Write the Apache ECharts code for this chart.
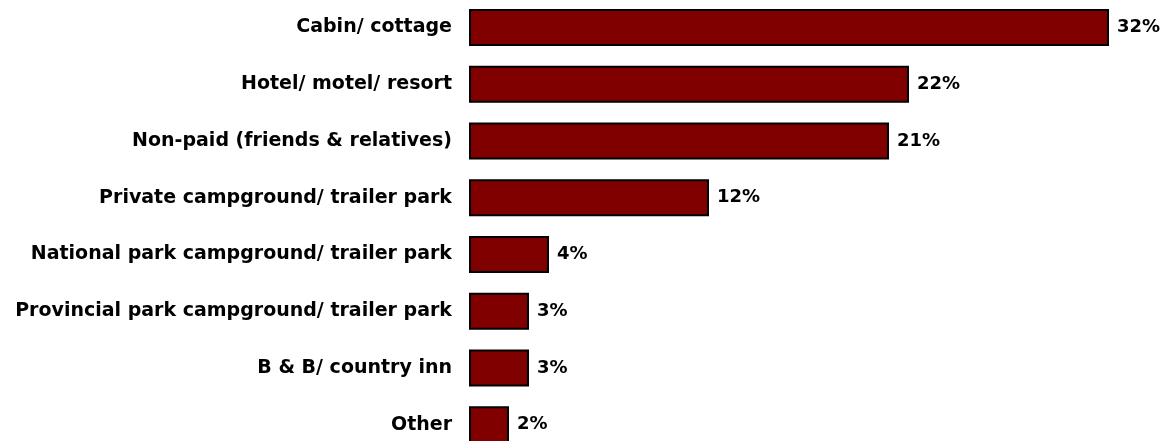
<!DOCTYPE html>
<html>
<head>
<meta charset="utf-8">
<script src="https://cdn.jsdelivr.net/npm/echarts@6/dist/echarts.min.js"></script>
<style>
html,body{margin:0;padding:0;background:#fff;}
#chart{width:1167px;height:441px;}
</style>
</head>
<body>
<div id="chart"></div>
<script>
var categories = [
  "Cabin/ cottage",
  "Hotel/ motel/ resort",
  "Non-paid (friends & relatives)",
  "Private campground/ trailer park",
  "National park campground/ trailer park",
  "Provincial park campground/ trailer park",
  "B & B/ country inn",
  "Other"
];
var values = [32, 22, 21, 12, 4, 3, 3, 2];

var chart = echarts.init(document.getElementById('chart'), null, {renderer: 'canvas'});
var font = '"DejaVu Sans", Verdana, sans-serif';
chart.setOption({
  animation: false,
  backgroundColor: '#ffffff',
  grid: {left: 469, width: 640, top: -1, height: 454, containLabel: false, outerBoundsMode: 'none'},
  xAxis: {
    type: 'value', min: 0, max: 32,
    show: false
  },
  yAxis: {
    type: 'category', data: categories, inverse: true,
    axisLine: {show: false}, axisTick: {show: false},
    axisLabel: {
      margin: 17, color: '#000', fontFamily: font, fontWeight: 'bold', fontSize: 19
    }
  },
  series: [{
    type: 'bar',
    data: values,
    barWidth: 37,
    itemStyle: {color: '#800000', borderColor: '#000', borderWidth: 2},
    label: {
      show: true, position: 'right', distance: 8,
      formatter: '{c}%', color: '#000', fontFamily: font, fontWeight: 'bold', fontSize: 18
    }
  }]
});
</script>
</body>
</html>
